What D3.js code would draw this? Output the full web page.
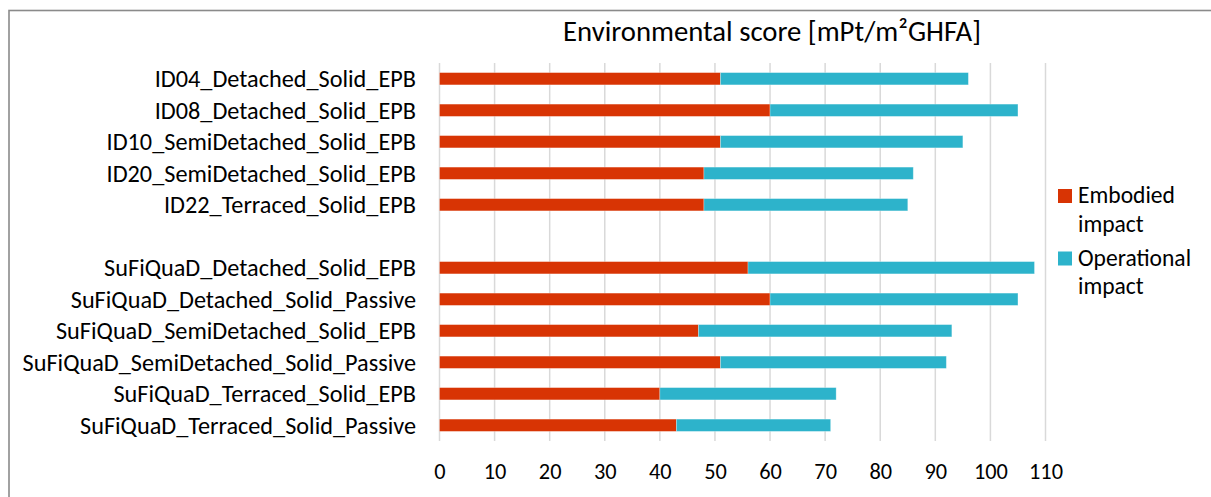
<!DOCTYPE html>
<html>
<head>
<meta charset="utf-8">
<script src="https://cdn.jsdelivr.net/npm/d3@7"></script>
<style>
  html, body { margin: 0; padding: 0; background: #fff; }
  svg { display: block; }
  text { font-family: Carlito, Calibri, Lato, "Open Sans", sans-serif; fill: #000; }
</style>
</head>
<body>
<svg id="chart" width="1211" height="497"></svg>
<script>
// ---- data ----
const categories = [
  "ID04_Detached_Solid_EPB",
  "ID08_Detached_Solid_EPB",
  "ID10_SemiDetached_Solid_EPB",
  "ID20_SemiDetached_Solid_EPB",
  "ID22_Terraced_Solid_EPB",
  "",
  "SuFiQuaD_Detached_Solid_EPB",
  "SuFiQuaD_Detached_Solid_Passive",
  "SuFiQuaD_SemiDetached_Solid_EPB",
  "SuFiQuaD_SemiDetached_Solid_Passive",
  "SuFiQuaD_Terraced_Solid_EPB",
  "SuFiQuaD_Terraced_Solid_Passive"
];
const embodied    = [51, 60, 51, 48, 48, null, 56, 60, 47, 51, 40, 43];
const operational = [45, 45, 44, 38, 37, null, 52, 45, 46, 41, 32, 28];
const seriesNames = ["Embodied impact", "Operational impact"];
const xTicks = [0, 10, 20, 30, 40, 50, 60, 70, 80, 90, 100, 110];
const title = "Environmental score [mPt/m\u00B2GHFA]";

const colors = ["#D83404", "#2DB3CB"];

const svg = d3.select("#chart");

// outer frame
svg.append("rect")
  .attr("x", 9).attr("y", 10.5)
  .attr("width", 1220).attr("height", 500)
  .attr("fill", "none").attr("stroke", "#8a8a8a").attr("stroke-width", 1.6);

const x = d3.scaleLinear().domain([0, 110]).range([439.5, 1045.5]);
const y = d3.scaleBand().domain(categories).range([63, 441])
  .paddingInner(0.61).paddingOuter(0.305);

// gridlines
svg.append("g").selectAll("line").data(xTicks).join("line")
  .attr("x1", d => x(d)).attr("x2", d => x(d))
  .attr("y1", 63).attr("y2", 441)
  .attr("stroke", "#d9d9d9").attr("stroke-width", 1.5);

// stacked bars
const rows = categories.map((c, i) => ({ c, e: embodied[i], o: operational[i] }))
  .filter(r => r.e != null);
const stack = d3.stack().keys(["e", "o"]);
const stacked = stack(rows);

svg.append("g").selectAll("g").data(stacked).join("g")
  .attr("fill", (d, i) => colors[i])
  .selectAll("rect").data(d => d).join("rect")
  .attr("x", d => x(d[0]))
  .attr("width", d => x(d[1]) - x(d[0]))
  .attr("y", d => y(d.data.c))
  .attr("height", y.bandwidth())
  .attr("stroke", "#ffffff").attr("stroke-opacity", 0.35).attr("stroke-width", 0.8);

// helper: fit font size so a reference text gets target width
function fitSize(sample, target, base) {
  const t = svg.append("text").attr("font-size", base).text(sample);
  const w = t.node().getComputedTextLength();
  t.remove();
  return base * target / w;
}
const labelSize = fitSize("SuFiQuaD_Terraced_Solid_Passive", 336, 23);
const tickSize = fitSize("100", 34, 23);
const legendSize = fitSize("Embodied", 97, 23);
const titleSize = fitSize(title, 418, 27);

// category labels
svg.append("g").selectAll("text").data(categories).join("text")
  .attr("x", 416)
  .attr("y", d => y(d) + y.bandwidth() / 2)
  .attr("dy", "0.36em")
  .attr("text-anchor", "end")
  .attr("font-size", labelSize)
  .text(d => d);

// x axis (no domain line, tick labels only)
const xAxis = d3.axisBottom(x).tickValues(xTicks).tickSize(0).tickPadding(0);
const gx = svg.append("g").attr("transform", "translate(0,441)").call(xAxis);
gx.select(".domain").remove();
gx.selectAll("text")
  .attr("y", 38).attr("dy", 0)
  .attr("font-size", tickSize)
  .attr("font-family", null)
  .style("fill", "#000");

// title
svg.append("text")
  .attr("x", 772).attr("y", 41)
  .attr("text-anchor", "middle")
  .attr("font-size", titleSize)
  .text(title);

// legend
const legendY = [189, 251.5];
const lg = svg.append("g").selectAll("g").data(seriesNames).join("g");
lg.append("rect")
  .attr("x", 1058).attr("y", (d, i) => legendY[i])
  .attr("width", 14).attr("height", 14)
  .attr("fill", (d, i) => colors[i]);
lg.each(function(d, i) {
  const words = d.split(" ");
  const t = d3.select(this).append("text")
    .attr("font-size", legendSize);
  words.forEach((w, k) => {
    t.append("tspan").attr("x", 1078).attr("y", legendY[i] + 14 + k * 28.5).text(w);
  });
});
</script>
</body>
</html>
